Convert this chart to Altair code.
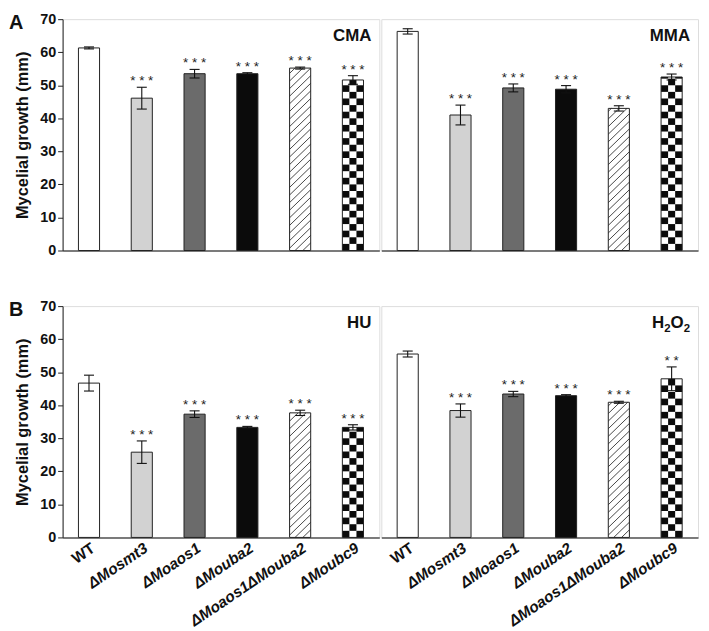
import altair as alt
import pandas as pd

strains = ["WT", "ΔMosmt3", "ΔMoaos1", "ΔMouba2", "ΔMoaos1ΔMouba2", "ΔMoubc9"]
fills = ["#ffffff", "#d2d2d2", "#6b6b6b", "#0b0b0b", "#ffffff", "#ffffff"]
patterns = ["none", "none", "none", "none", "hatch", "checker"]

cma_mean = [61.3, 46.1, 53.5, 53.5, 55.2, 51.6]
cma_err = [0.3, 3.3, 1.3, 0.3, 0.3, 1.3]
cma_sig = ["", "***", "***", "***", "***", "***"]

mma_mean = [66.3, 41.0, 49.2, 48.8, 43.0, 52.5]
mma_err = [0.8, 3.0, 1.2, 1.1, 0.8, 0.9]
mma_sig = ["", "***", "***", "***", "***", "***"]

hu_mean = [46.7, 25.8, 37.3, 33.3, 37.7, 33.3]
hu_err = [2.4, 3.4, 1.0, 0.3, 0.8, 0.8]
hu_sig = ["", "***", "***", "***", "***", "***"]

h2o2_mean = [55.5, 38.4, 43.4, 42.9, 40.9, 48.0]
h2o2_err = [0.9, 2.0, 0.8, 0.3, 0.3, 3.6]
h2o2_sig = ["", "***", "***", "***", "***", "**"]

W, H = 319, 233
BAR_HW = 0.2
CAP_HW = 0.095
FONT = "Liberation Sans"

xs = alt.Scale(domain=[-0.5, 5.5], nice=False, zero=False)
ys = alt.Scale(domain=[0, 70], nice=False, zero=True)


def hatch_segments(i, top, hw, rise=6.2, step=2.3):
    xl, xr = i - hw, i + hw
    w = xr - xl
    out = []
    y0 = -rise
    while y0 < top:
        ya, yb, xa, xb = y0, y0 + rise, xl, xr
        if ya < 0:
            xa = xl + (0 - y0) / rise * w
            ya = 0
        if yb > top:
            xb = xl + (top - y0) / rise * w
            yb = top
        if xb > xa:
            out.append({"hx1": xa, "hx2": xb, "hy1": ya, "hy2": yb})
        y0 += step
    return out


def checker_cells(i, top, hw, size=2.0, ncol=3):
    cw = 2 * hw / ncol
    out = []
    r = 0
    while r * size < top:
        y1 = r * size
        y2 = min((r + 1) * size, top)
        for c in range(ncol):
            if (r + c) % 2 == 0:
                out.append({"cx1": i - hw + c * cw, "cx2": i - hw + (c + 1) * cw,
                            "cy1": y1, "cy2": y2})
        r += 1
    return out


label_expr = "[" + ",".join("'" + s + "'" for s in strains) + "][datum.value]"


def title_layers(title):
    # title text parts: (text, fontSize, baseline shift)
    if title == "H2O2":
        parts = [("H", 17, 0), ("2", 11.5, 4), ("O", 17, 0), ("2", 11.5, 4)]
        widths = [0.722 * 17, 0.556 * 11.5, 0.778 * 17, 0.556 * 11.5]
    else:
        parts = [(title, 17, 0)]
        widths = [0]
    out = []
    if len(parts) == 1:
        out.append(alt.Chart(pd.DataFrame({"t": [title]})).mark_text(
            font=FONT, fontSize=17, fontWeight="bold", align="right", baseline="alphabetic",
            color="#111").encode(x=alt.value(W - 8), y=alt.value(22), text="t:N"))
        return out
    x = W - 8 - sum(widths)
    for (t, fs, sh), wd in zip(parts, widths):
        out.append(alt.Chart(pd.DataFrame({"t": [t]})).mark_text(
            font=FONT, fontSize=fs, fontWeight="bold", align="left", baseline="alphabetic",
            color="#111").encode(x=alt.value(x), y=alt.value(22 + sh), text="t:N"))
        x += wd
    return out


def panel(title, means, errs, sigs, left, bottom, letter):
    df = pd.DataFrame({
        "idx": list(range(6)),
        "strain": strains,
        "mean": means,
        "err": errs,
        "sig": [" ".join(list(s)) for s in sigs],
        "fill": fills,
    })
    df["x1"] = df["idx"] - BAR_HW
    df["x2"] = df["idx"] + BAR_HW
    df["c1"] = df["idx"] - CAP_HW
    df["c2"] = df["idx"] + CAP_HW
    df["lo"] = df["mean"] - df["err"]
    df["hi"] = df["mean"] + df["err"]
    df["zero"] = 0.0

    hatch, cells = [], []
    for i in range(6):
        if patterns[i] == "hatch":
            hatch += hatch_segments(i, means[i], BAR_HW)
        elif patterns[i] == "checker":
            cells += checker_cells(i, means[i], BAR_HW)
    hdf = pd.DataFrame(hatch)
    cdf = pd.DataFrame(cells)

    if bottom:
        xaxis = alt.Axis(values=list(range(6)), labelExpr=label_expr, title=None,
                         grid=False, ticks=False, labelAngle=-34, labelAlign="right",
                         labelBaseline="top", labelFont=FONT, labelFontSize=15.5,
                         labelFontWeight="bold",
                         labelFontStyle={"condition": {"test": "datum.value == 0", "value": "normal"},
                                         "value": "italic"},
                         labelOverlap=False, labelFlush=False, labelPadding=3,
                         labelColor="#111", domainColor="#555", domainWidth=1.5)
    else:
        xaxis = alt.Axis(values=list(range(6)), labels=False, ticks=False, title=None,
                         grid=False, domainColor="#555", domainWidth=1.5)
    if left:
        yaxis = alt.Axis(values=list(range(0, 71, 10)), grid=False, tickSize=5,
                         tickColor="#222", domainColor="#222", labelFont=FONT,
                         labelFontSize=14.5, labelFontWeight="bold", labelColor="#111",
                         labelPadding=2, title="Mycelial growth (mm)", titleFont=FONT,
                         titleFontSize=16.5, titleFontWeight="bold", titleColor="#111",
                         titlePadding=9)
    else:
        yaxis = None

    def X(f):
        return alt.X(f, scale=xs, axis=xaxis, title=None)

    def Y(f):
        return alt.Y(f, scale=ys, axis=yaxis, title="Mycelial growth (mm)" if left else None)

    base = alt.Chart(df)
    bars = base.mark_rect(strokeWidth=0).encode(
        x=X("x1:Q"), x2="x2:Q", y=Y("zero:Q"), y2="mean:Q",
        fill=alt.Fill("fill:N", scale=None))
    layers = [bars]
    if len(cdf):
        layers.append(alt.Chart(cdf).mark_rect(color="#0b0b0b", strokeWidth=0).encode(
            x=X("cx1:Q"), x2="cx2:Q", y=Y("cy1:Q"), y2="cy2:Q"))
    if len(hdf):
        layers.append(alt.Chart(hdf).mark_rule(color="#333", strokeWidth=0.9).encode(
            x=X("hx1:Q"), x2="hx2:Q", y=Y("hy1:Q"), y2="hy2:Q"))
    outline = base.mark_rect(filled=False, stroke="#222", strokeWidth=1).encode(
        x=X("x1:Q"), x2="x2:Q", y=Y("zero:Q"), y2="mean:Q")
    ebar = base.mark_rule(color="#111", strokeWidth=1.1).encode(
        x=X("idx:Q"), y=Y("lo:Q"), y2="hi:Q")
    cap_hi = base.mark_rule(color="#111", strokeWidth=1.1).encode(
        x=X("c1:Q"), x2="c2:Q", y=Y("hi:Q"))
    cap_lo = base.mark_rule(color="#111", strokeWidth=1.1).encode(
        x=X("c1:Q"), x2="c2:Q", y=Y("lo:Q"))
    stars = base.mark_text(font=FONT, fontSize=13.5, color="#222", baseline="alphabetic",
                           dy=-2).encode(x=X("idx:Q"), y=Y("hi:Q"), text="sig:N")
    layers += [outline, ebar, cap_hi, cap_lo, stars] + title_layers(title)
    if letter:
        layers.append(alt.Chart(pd.DataFrame({"t": [letter]})).mark_text(
            font=FONT, fontSize=20, fontWeight="bold", align="left", baseline="top",
            color="#111").encode(x=alt.value(-54), y=alt.value(-6), text="t:N"))
    return alt.layer(*layers).properties(width=W, height=H)


row_a = alt.hconcat(
    panel("CMA", cma_mean, cma_err, cma_sig, True, False, "A"),
    panel("MMA", mma_mean, mma_err, mma_sig, False, False, None),
    spacing=0)
row_b = alt.hconcat(
    panel("HU", hu_mean, hu_err, hu_sig, True, True, "B"),
    panel("H2O2", h2o2_mean, h2o2_err, h2o2_sig, False, True, None),
    spacing=0)

chart = alt.vconcat(row_a, row_b, spacing=40).properties(
    padding={"left": 0, "top": 0, "right": 2, "bottom": 0}
).configure_view(stroke="#222", strokeWidth=1).configure(font=FONT)

chart.save("out.html", embed_options={"renderer": "svg", "actions": False})
